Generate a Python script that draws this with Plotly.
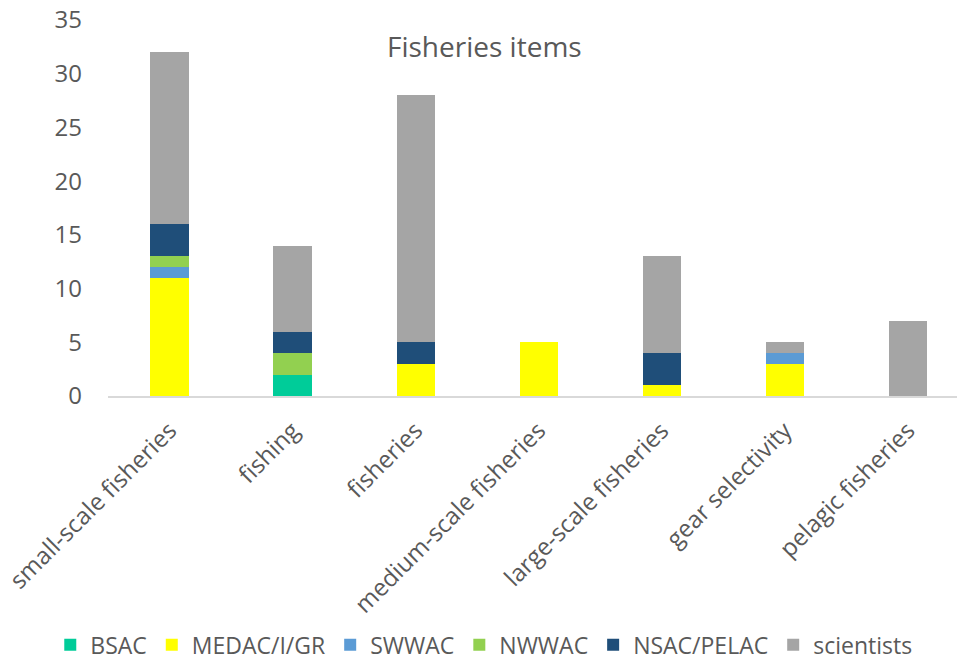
import plotly.graph_objects as go

categories = ["small-scale fisheries", "fishing", "fisheries", "medium-scale fisheries",
              "large-scale fisheries", "gear selectivity", "pelagic fisheries"]

bsac = [0, 2, 0, 0, 0, 0, 0]
medac = [11, 0, 3, 5, 1, 3, 0]
swwac = [1, 0, 0, 0, 0, 1, 0]
nwwac = [1, 2, 0, 0, 0, 0, 0]
nsac_pelac = [3, 2, 2, 0, 3, 0, 0]
scientists = [16, 8, 23, 0, 9, 1, 7]

y_ticks = [0, 5, 10, 15, 20, 25, 30, 35]

series = [
    ("BSAC", bsac, "#00CC99"),
    ("MEDAC/I/GR", medac, "#FFFF00"),
    ("SWWAC", swwac, "#5B9BD5"),
    ("NWWAC", nwwac, "#92D050"),
    ("NSAC/PELAC", nsac_pelac, "#1F4E79"),
    ("scientists", scientists, "#A5A5A5"),
]

FONT = "'Open Sans', 'Noto Sans', sans-serif"
GREY = "#595959"

fig = go.Figure()
for name, vals, color in series:
    fig.add_trace(go.Bar(
        name=name,
        x=categories,
        y=vals,
        marker=dict(color=color, line=dict(width=0)),
    ))

fig.update_layout(
    barmode="stack",
    bargap=0.69,
    width=957,
    height=666,
    margin=dict(l=108, r=0, t=20, b=270, autoexpand=False),
    plot_bgcolor="white",
    paper_bgcolor="white",
    font=dict(family=FONT, color=GREY, size=24),
    showlegend=True,
    legend=dict(
        orientation="h",
        xref="paper", yref="paper",
        x=-0.068, y=-0.662,
        xanchor="left", yanchor="middle",
        font=dict(size=23, color=GREY),
        traceorder="normal",
        itemwidth=30,
    ),
    annotations=[dict(
        text="Fisheries items",
        xref="paper", yref="paper",
        x=0.443, y=0.93,
        xanchor="center", yanchor="middle",
        showarrow=False,
        font=dict(size=28, color=GREY, family=FONT),
    )],
)

fig.update_xaxes(
    range=[-0.5, 6.4],
    tickangle=-45,
    tickfont=dict(size=24, color=GREY),
    showline=True, linecolor="#D9D9D9", linewidth=2,
    showgrid=False, ticks="", ticklabelstandoff=9,
)
fig.update_yaxes(
    range=[0, 35],
    tickvals=y_ticks,
    tickfont=dict(size=24, color=GREY),
    showgrid=False, showline=False, zeroline=False,
    ticks="", ticklabelstandoff=25,
)

fig.write_html("out.html")
